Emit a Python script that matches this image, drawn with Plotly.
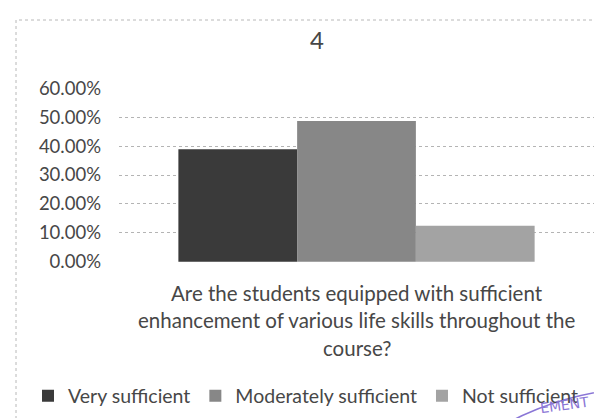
import plotly.graph_objects as go

# ---- data ----
category = ["Are the students equipped with sufficient enhancement of various life skills throughout the course?"]
category_lines = ["Are the students equipped with sufficient",
                  "enhancement of various life skills throughout the",
                  "course?"]
series_names = ["Very sufficient", "Moderately sufficient", "Not sufficient"]
series_values = [0.3889, 0.4861, 0.1250]
y_ticks = [0.0, 0.1, 0.2, 0.3, 0.4, 0.5, 0.6]
y_tick_labels = ["0.00%", "10.00%", "20.00%", "30.00%", "40.00%", "50.00%", "60.00%"]
chart_title = "4"

colors = ["#3a3a3a", "#878787", "#a3a3a3"]
FONT = "Lato, Open Sans, sans-serif"
TXT = "#474747"

W, H = 602, 418
L, R, T, B = 111, 16, 80, 164
PW = W - L - R
PH = H - T - B


def px_x(x):
    return (x - L) / PW


def px_y(y):
    return (H - B - y) / PH


fig = go.Figure()
for name, val, c in zip(series_names, series_values, colors):
    fig.add_trace(go.Bar(x=category, y=[val], name=name,
                         marker=dict(color=c, line=dict(width=0))))

fig.update_layout(
    width=W, height=H,
    margin=dict(l=L, r=R, t=T, b=B, autoexpand=False),
    paper_bgcolor="white", plot_bgcolor="white",
    barmode="group", bargap=0.25, bargroupgap=0,
    font=dict(family=FONT, color=TXT, size=20),
    title=dict(text=chart_title, x=309 / W, xanchor="center",
               y=1 - 33 / H, yanchor="middle", xref="container", yref="container",
               font=dict(size=24, color=TXT, family=FONT)),
    showlegend=True,
    legend=dict(orientation="h", xref="paper", yref="paper",
                x=px_x(20), xanchor="left",
                y=px_y(388), yanchor="middle",
                font=dict(size=19.5, color=TXT, family=FONT),
                itemwidth=30, tracegroupgap=0, bgcolor="rgba(0,0,0,0)"),
)
fig.update_xaxes(showticklabels=False, ticks="", showline=False, showgrid=False)
fig.update_yaxes(range=[-0.0005, 0.6005], tickvals=y_ticks, ticktext=y_tick_labels,
                 showgrid=True, gridcolor="#b4b4b4", griddash="dot", gridwidth=1,
                 zeroline=False, showline=False, ticks="", ticklabelstandoff=17,
                 tickfont=dict(size=18.5, color=TXT, family=FONT))

# category label lines below the axis
for line, py in zip(category_lines, [285, 312, 340]):
    fig.add_annotation(text=line, x=0.5, xref="paper", y=px_y(py), yref="paper",
                       xanchor="center", yanchor="middle", showarrow=False,
                       font=dict(size=20.5, color=TXT, family=FONT))

# chart border (dotted)
fig.add_shape(type="rect", xref="paper", yref="paper",
              x0=px_x(8), x1=px_x(600), y0=px_y(430), y1=px_y(12),
              line=dict(color="#b8b8b8", width=1, dash="dot"), layer="below")

# stamp fragment
fig.add_shape(type="circle", xref="paper", yref="paper",
              x0=px_x(340), x1=px_x(940), y0=px_y(980), y1=px_y(380),
              line=dict(color="#8a76d6", width=1.5))
fig.add_annotation(text="EMENT", x=px_x(584), y=px_y(411), xref="paper", yref="paper",
                   showarrow=False, textangle=-8,
                   font=dict(size=14, color="#8a76d6", family="DejaVu Sans"))

fig.write_html("out.html")
